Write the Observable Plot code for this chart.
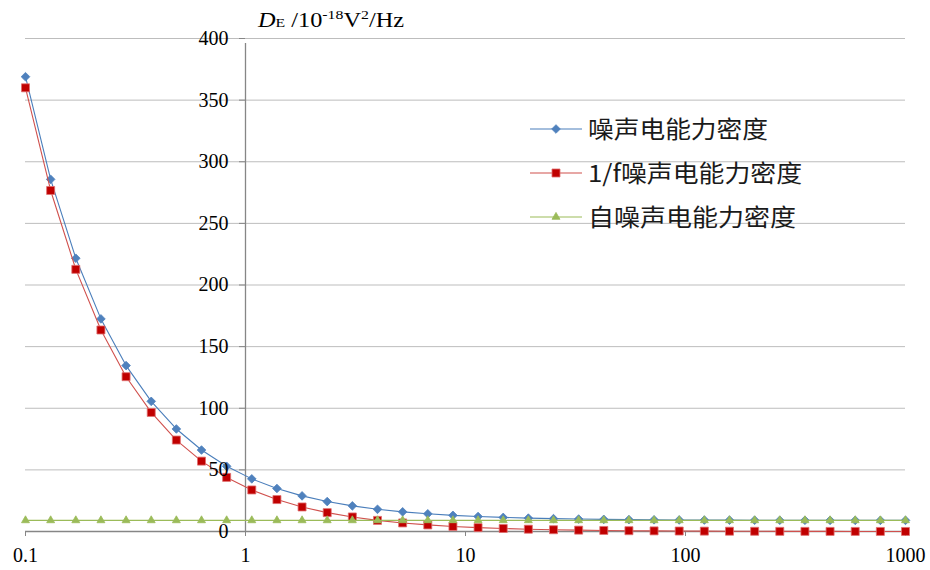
<!DOCTYPE html>
<html><head><meta charset="utf-8">
<script src="https://cdn.jsdelivr.net/npm/d3@7"></script>
<script src="https://cdn.jsdelivr.net/npm/@observablehq/plot@0.6"></script>
<style>
body{margin:0;background:#fff;}
#chart{position:relative;width:930px;height:570px;}
</style>
</head><body><div id="chart"></div>
<script>
// frequency (Hz), log-spaced
const freq = [0.1, 0.1301, 0.1693, 0.2202, 0.2865, 0.3728, 0.4850, 0.6310, 0.8209, 1.068,
  1.3895, 1.8077, 2.3519, 3.0599, 3.9811, 5.1795, 6.7386, 8.7671, 11.406, 14.840,
  19.307, 25.119, 32.681, 42.519, 55.318, 71.969, 93.633, 121.82, 158.49, 206.21,
  268.27, 349.04, 454.11, 590.81, 768.66, 1000];
// total noise power density
const totalNoise = [369, 285.7, 221.7, 172.5, 134.6, 105.6, 83.2, 66.1, 52.9, 42.7,
  34.9, 28.9, 24.3, 20.8, 18.0, 15.95, 14.34, 13.11, 12.16, 11.43,
  10.86, 10.43, 10.10, 9.85, 9.65, 9.50, 9.38, 9.30, 9.23, 9.17,
  9.13, 9.10, 9.08, 9.06, 9.05, 9.04];
// 1/f noise power density
const flickerNoise = [360, 276.7, 212.7, 163.5, 125.6, 96.6, 74.2, 57.1, 43.9, 33.7,
  25.9, 19.9, 15.3, 11.8, 9.0, 6.95, 5.34, 4.11, 3.16, 2.43,
  1.86, 1.43, 1.10, 0.85, 0.65, 0.50, 0.38, 0.30, 0.23, 0.17,
  0.13, 0.10, 0.08, 0.06, 0.05, 0.04];
// white noise power density
const whiteNoise = [9, 9, 9, 9, 9, 9, 9, 9, 9, 9,
  9, 9, 9, 9, 9, 9, 9, 9, 9, 9,
  9, 9, 9, 9, 9, 9, 9, 9, 9, 9,
  9, 9, 9, 9, 9, 9];
const yTicks = [0, 50, 100, 150, 200, 250, 300, 350, 400];
const xTicks = [0.1, 1, 10, 100, 1000];
const xTickLabels = ["0.1", "1", "10", "100", "1000"];
const seriesNames = ["噪声电能力密度", "1/f噪声电能力密度", "自噪声电能力密度"];

const W = 930, H = 570, mL = 25, mR = 25, mT = 38, mB = 39;
const series = [
  {name: seriesNames[0], values: totalNoise, line: "#4A7EBB", fill: "#4F81BD", stroke: "#4F81BD", symbol: "diamond2", r: 3.9},
  {name: seriesNames[1], values: flickerNoise, line: "#D0504D", fill: "#C00000", stroke: "#E07070", symbol: "square2", r: 5.1},
  {name: seriesNames[2], values: whiteNoise, line: "#9BBB59", fill: "#9BBB59", stroke: "#9BBB59", symbol: "triangle2", r: 3.8}
];
const rows = series.map(s => freq.map((f, i) => ({f, v: s.values[i]})));

const xDomain = [0.1, 1000];
const axisDx = (Math.log10(1) - Math.log10(xDomain[0])) / (Math.log10(xDomain[1]) - Math.log10(xDomain[0])) * (W - mL - mR);

const serif = "'Liberation Serif','Times New Roman',serif";
const marks = [
  Plot.ruleY(yTicks.filter(d => d > 0), {stroke: "#bdbdbd", strokeWidth: 1}),
  Plot.ruleX([1], {y1: 0, y2: 400, stroke: "#868686", strokeWidth: 1.3, insetBottom: -5}),
  Plot.ruleY([0], {stroke: "#868686", strokeWidth: 1.3}),
  Plot.axisX({ticks: xTicks, tickFormat: d => xTickLabels[xTicks.indexOf(d)], tickSize: 5, tickPadding: 11,
    stroke: "#868686", fill: "#000", label: null}),
  Plot.axisY({ticks: yTicks, anchor: "left", dx: axisDx, tickSize: 6, text: null, label: null,
    stroke: "#868686"})
];
series.forEach((s, k) => {
  marks.push(Plot.line(rows[k], {x: "f", y: "v", stroke: s.line, strokeWidth: 1.1}));
  marks.push(Plot.dot(rows[k], {x: "f", y: "v", symbol: () => s.symbol, r: s.r, fill: s.fill, stroke: s.stroke, strokeWidth: 0.8}));
});
// value labels drawn on top, like the source
marks.push(Plot.axisY({ticks: yTicks, tickFormat: d => String(d), anchor: "left", dx: axisDx, tickSize: 0, tickPadding: 17,
  fill: "#000", label: null}));

const chart = Plot.plot({
  width: W, height: H,
  marginLeft: mL, marginRight: mR, marginTop: mT, marginBottom: mB,
  style: {background: "#fff", overflow: "visible"},
  x: {type: "log", domain: xDomain, label: null},
  y: {domain: [0, 400], label: null},
  symbol: {type: "identity"},
  marks
});
document.getElementById("chart").appendChild(chart);

const svg = d3.select(chart);
// serif tick labels (all texts Plot made are tick labels)
svg.attr("font-family", serif).attr("font-size", 20);
svg.selectAll("g").filter(function() { return this.hasAttribute("font-family") || this.hasAttribute("font-size"); })
  .attr("font-family", serif).attr("font-size", 20);
svg.selectAll("text").style("font-family", serif).style("font-size", "20px").style("fill", "#000");

// title (source text is horizontally stretched)
const title = svg.append("text").attr("x", 258).attr("y", 27).attr("text-anchor", "start")
  .attr("font-family", serif).attr("font-size", 20).attr("fill", "#000")
  .attr("textLength", 146).attr("lengthAdjust", "spacingAndGlyphs");
title.append("tspan").attr("font-style", "italic").text("D");
title.append("tspan").attr("font-size", 13).text("E");
title.append("tspan").text(" /10");
title.append("tspan").attr("font-size", 13).attr("dy", -8).text("-18");
title.append("tspan").attr("dy", 8).text("V");
title.append("tspan").attr("font-size", 13).attr("dy", -8).text("2");
title.append("tspan").attr("dy", 8).text("/Hz");

// legend
const legendTextWidth = [180, 214, 208];
const symMap = {diamond2: d3.symbolDiamond2, square2: d3.symbolSquare2, triangle2: d3.symbolTriangle2};
series.forEach((s, k) => {
  const cy = 129 + 44 * k;
  const g = svg.append("g");
  g.append("line").attr("x1", 530).attr("x2", 582).attr("y1", cy).attr("y2", cy).attr("stroke", s.line).attr("stroke-width", 1.1);
  g.append("path").attr("transform", `translate(556,${cy})`)
    .attr("d", d3.symbol(symMap[s.symbol], Math.PI * s.r * s.r)())
    .attr("fill", s.fill).attr("stroke", s.stroke).attr("stroke-width", 0.8);
  g.append("text").attr("x", 588).attr("y", cy).attr("dy", "0.36em").attr("text-anchor", "start")
    .attr("font-family", "'Noto Sans CJK SC','Noto Sans',sans-serif").attr("font-size", 24).attr("fill", "#1a1a1a")
    .attr("textLength", legendTextWidth[k]).attr("lengthAdjust", "spacingAndGlyphs")
    .text(s.name);
});
</script>
</body></html>
